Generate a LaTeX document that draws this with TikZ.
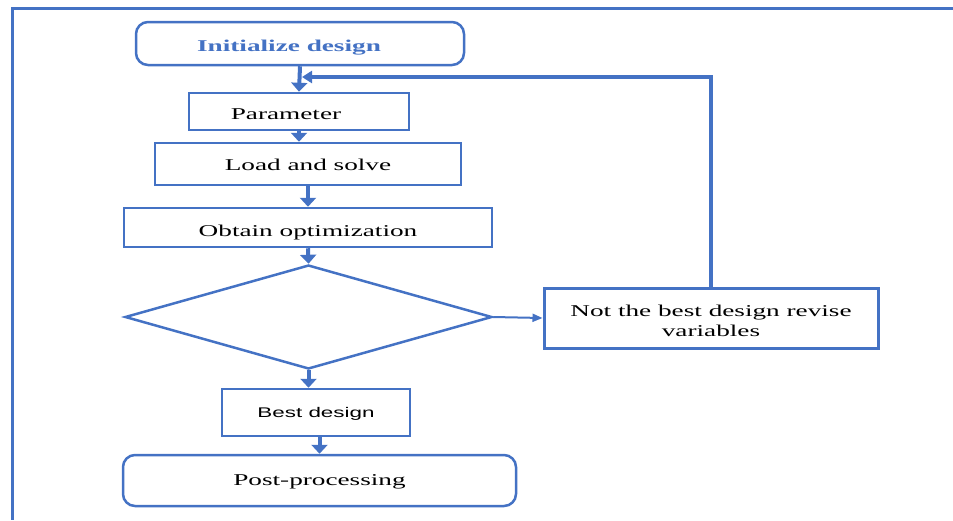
\documentclass[tikz,border=0pt]{standalone}
\usepackage{fontspec}
\usetikzlibrary{arrows.meta,shapes.geometric}
\newfontfamily\serifw[FakeStretch=1.65]{Liberation Serif}
\newfontfamily\sansw[FakeStretch=1.6]{Liberation Sans}
\definecolor{mblue}{HTML}{4472C4}
\begin{document}
\begin{tikzpicture}[x=1pt,y=-1pt,
  box/.style={draw=mblue,line width=2.5pt,rectangle,inner sep=0pt,fill=white,
    font=\serifw\fontsize{16.5}{19.8}\selectfont},
  rbox/.style={box,rounded corners=12pt},
  lower/.style={text depth=4pt,text height={4pt+2*#1}},
  flow/.style={draw=mblue,line width=4pt,-{Triangle[width=16pt,length=9pt]}},
  thinflow/.style={draw=mblue,line width=2pt,-{Triangle[width=8pt,length=10pt]}},
  fbflow/.style={draw=mblue,line width=3.5pt,-{Triangle[width=12pt,length=10pt]}}]
\useasboundingbox (0,0) rectangle (953,520);
% outer frame
\coordinate (fr1) at (953,8.5);
\coordinate (fr2) at (12,8.5);
\coordinate (fr3) at (12,520);
\draw[mblue,line width=3pt] (fr1) -- (fr2) -- (fr3);
% nodes
\node[rbox,minimum width=328pt,minimum height=43pt,text=mblue,lower=8pt,
  font=\serifw\bfseries\fontsize{16.5}{19.8}\selectfont] (init) at (300,43.5) {\hspace*{-22pt}Initialize design};
\node[box,minimum width=220pt,minimum height=37pt,lower=8pt] (param) at (299,111.5) {\hspace*{-26pt}Parameter};
\node[box,minimum width=306pt,minimum height=42pt,lower=6.5pt] (load) at (308,164) {Load and solve};
\node[box,minimum width=368pt,minimum height=39pt,lower=8.5pt] (obt) at (308,227.5) {Obtain optimization};
\node[draw=mblue,line width=2.5pt,diamond,minimum width=367pt,minimum height=104pt,inner sep=0pt] (dia) at (308.5,317) {};
\node[box,line width=3pt,minimum width=334pt,minimum height=60pt,align=center] (nb) at (711,318) {\rule{0pt}{17pt}Not the best design revise\\variables};
\node[box,minimum width=188pt,minimum height=47pt,lower=4.5pt,font=\sansw\fontsize{14}{17}\selectfont] (best) at (316,412.5) {Best design};
\node[rbox,minimum width=393pt,minimum height=51pt,lower=4.5pt] (post) at (319.5,480.5) {Post-processing};
% connectors
\draw[flow] (init.south) -- (param.north);
\draw[flow] (param.south) -- (param.south |- load.north);
\draw[flow] (load.south) -- (obt.north);
\draw[flow] (obt.south) -- (dia.north);
\draw[thinflow] (dia.east) -- (nb.west);
\draw[flow] (dia.south) -- (dia.south |- best.north);
\draw[flow] (post.north |- best.south) -- (post.north);
\coordinate (fbend) at (302,77);
\draw[fbflow] (nb.north) |- (fbend);
\end{tikzpicture}
\end{document}
